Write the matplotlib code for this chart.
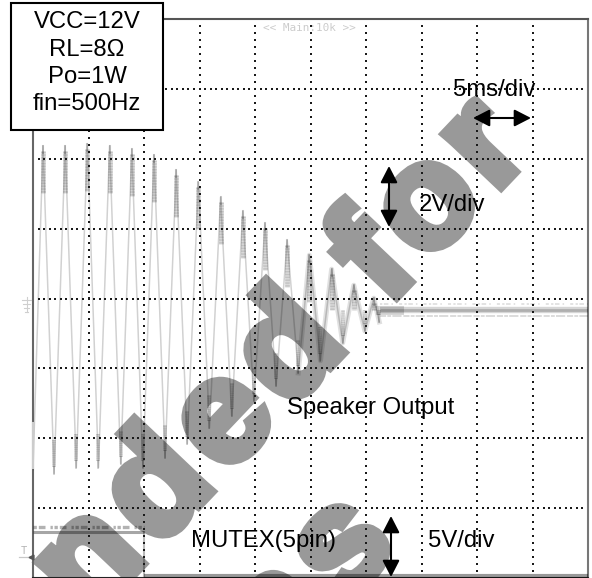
import numpy as np
import matplotlib
matplotlib.use("Agg")
import matplotlib.pyplot as plt
import matplotlib.patheffects as pe
from matplotlib.patches import Rectangle, FancyArrowPatch
from matplotlib.lines import Line2D

W, H = 592, 578
plt.rcParams['font.family'] = ['Liberation Sans', 'DejaVu Sans']

# Speaker output: time in ms, level in V (5 ms/div, 2 V/div)
peak_t = [0.9, 2.9, 4.9, 6.9, 8.9, 10.9, 12.9, 14.9, 16.9, 18.9, 20.9, 22.9, 24.9, 26.9, 28.9, 30.7]
peak_v = [4.37, 4.37, 4.43, 4.37, 4.28, 4.11, 3.68, 3.33, 2.90, 2.50, 2.16, 1.67, 1.24, 0.84, 0.38, 0.01]
trough_t = [1.9, 3.9, 5.9, 7.9, 9.9, 11.9, 13.9, 15.9, 17.9, 19.9, 21.9, 23.9, 25.9, 27.9, 29.9, 31.2]
trough_v = [-5.01, -4.84, -4.84, -4.73, -4.84, -4.56, -4.16, -3.71, -3.36, -2.93, -2.50, -2.13, -1.78, -1.27, -0.93, -0.67]
start_t, start_v = 0.0, -4.9
settled_t = [31.3, 50.0]
settled_v = [-0.33, -0.33]
# MUTEX trace in the same axes units
mutex_t = [0.0, 10.0, 10.0, 50.0]
mutex_v = [-6.69, -6.69, -7.93, -7.93]

major_x = np.arange(5, 50, 5)
major_y = np.arange(-6, 8, 2)

fig = plt.figure(figsize=(W / 100, H / 100), dpi=100, facecolor='white')
ax = fig.add_axes([33 / W, 0, 555 / W, 1 - 19 / H])
ax.set_xlim(0, 50)
ax.set_ylim(-8, 8)
ax.set_xticks([])
ax.set_yticks([])
for name, col in (('left', '#666666'), ('right', '#777777'), ('top', '#555555'), ('bottom', '#222222')):
    ax.spines[name].set_color(col)
    ax.spines[name].set_linewidth(1.5)
    ax.spines[name].set_zorder(1.5)


def fx(x):
    return x / W


def fy(y):
    return 1 - y / H


# watermark lies under the scope image; the traces are translucent black so they darken it.
# The original face is wider than Liberation Sans Bold, so the letters are set with wide spacing.
wm_angle = 46.5
wm_em = 164.0
wm_style = dict(fontsize=105, fontweight='bold', color='#999999', rotation=wm_angle, rotation_mode='anchor',
                ha='center', va='baseline', zorder=1, transform=fig.transFigure, clip_on=False,
                path_effects=[pe.withStroke(linewidth=7, foreground='#999999', joinstyle='miter')])


def watermark(x0, y0, letters, advances):
    pen = 0.0
    c, s = np.cos(np.radians(wm_angle)), np.sin(np.radians(wm_angle))
    for ch, adv in zip(letters, advances):
        mid = (pen + adv / 2) * wm_em
        ax.text(fx(x0 + mid * c), fy(y0 - mid * s), ch, **wm_style)
        pen += adv


watermark(84, 626, 'nded for', [0.611, 0.611, 0.556, 0.611, 0.278, 0.333, 0.611, 0.389])
watermark(271, 681, 'ns', [0.611, 0.556])

# dotted graticule
for x in major_x:
    ys = np.arange(-7.8, 7.9, 0.2)
    ax.scatter(np.full_like(ys, x), ys, s=1.0, c='#1a1a1a', marker='s', linewidths=0, zorder=4)
for y in major_y:
    xs = np.arange(0.5, 50, 0.5)
    ax.scatter(xs, np.full_like(xs, y), s=1.0, c='#1a1a1a', marker='s', linewidths=0, zorder=4)

# speaker trace
zig_t, zig_v = [start_t], [start_v]
for a, b, c, d in zip(peak_t, peak_v, trough_t, trough_v):
    zig_t += [a, c]
    zig_v += [b, d]
ax.plot(zig_t, zig_v, color='black', alpha=0.18, lw=1.1, zorder=2)
n_late = 2 * sum(t < 24 for t in peak_t)
ax.plot(zig_t[n_late:], zig_v[n_late:], color='black', alpha=0.12, lw=3.6, zorder=2)
hatch = (0, (0.3, 0.3))
for a, b in zip(peak_t, peak_v):
    span = min(1.35, max(b + 0.33, 0.2))
    ax.plot([a, a], [b - 0.15, b - span], color='black', alpha=0.15, lw=3.4, zorder=2.1, solid_capstyle='butt')
    ax.plot([a, a], [b - 0.15, b - span], color='black', alpha=0.1, lw=3.4, ls=hatch, zorder=2.1)
    ax.plot([a, a], [b, b - 0.2], color='black', alpha=0.2, lw=1.5, zorder=2.1)
for a, b in zip(trough_t, trough_v):
    span = min(0.95, max(-0.33 - b, 0.2))
    ax.plot([a, a], [b + 0.2, b + span], color='black', alpha=0.14, lw=2.6, zorder=2.1, solid_capstyle='butt')
    ax.plot([a, a], [b + 0.2, b + span], color='black', alpha=0.08, lw=2.6, ls=hatch, zorder=2.1)
    ax.plot([a, a], [b, b + 0.2], color='black', alpha=0.2, lw=1.2, zorder=2.1)
ax.plot([0, 0], [-3.57, -4.85], color='#cccccc', lw=1.5, zorder=2, clip_on=False)

# settled noise band
ax.plot(settled_t, settled_v, color='black', alpha=0.16, lw=4.6, zorder=2, solid_capstyle='butt')
ax.plot(settled_t, settled_v, color='black', alpha=0.18, lw=2.0, zorder=2.1, solid_capstyle='butt')
ax.plot(settled_t, [v + 0.17 for v in settled_v], color='black', alpha=0.14, lw=1.1,
        ls=(0, (1.5, 1, 3, 2, 1, 4, 2, 1.5)), zorder=2)
ax.plot(settled_t, [v - 0.16 for v in settled_v], color='black', alpha=0.18, lw=1.1,
        ls=(0, (4, 0.8, 2.5, 0.8, 6, 1.2)), zorder=2)
ax.plot([31.3, 33.0], [settled_v[0], settled_v[0]], color='black', alpha=0.16, lw=6.5, zorder=2)

# MUTEX trace
ax.plot(mutex_t[:2], mutex_v[:2], color='black', alpha=0.35, lw=2.2, zorder=2.6, solid_capstyle='butt')
ax.plot(mutex_t[:2], [v + 0.14 for v in mutex_v[:2]], color='black', alpha=0.3, lw=2.4,
        ls=(0, (1, 0.6, 2, 1.5, 0.7, 0.5)), zorder=2.6)
ax.plot(mutex_t[1:3], mutex_v[1:3], color='black', alpha=0.27, lw=1.5, zorder=2.6)
ax.plot(mutex_t[2:], mutex_v[2:], color='black', alpha=0.4, lw=3.0, zorder=2.6, solid_capstyle='butt', clip_on=False)

# scope markers and header
fig.text(fx(309.5), fy(28), '<< Main:10k >>', family='DejaVu Sans Mono', fontsize=7.9, color='#cccccc',
         ha='center', va='center', zorder=6)
for x0, x1, y in ((22, 31, 300), (23, 30, 304), (24, 29, 308), (25, 28, 312)):
    fig.add_artist(Line2D([fx(x0), fx(x1)], [fy(y), fy(y)], color='#cfcfcf', lw=0.8, zorder=6))
fig.add_artist(Line2D([fx(27), fx(27)], [fy(297), fy(312)], color='#cfcfcf', lw=0.8, zorder=6))
fig.text(fx(23.5), fy(551), 'T', family='DejaVu Sans Mono', fontsize=7.5, color='#b5b5b5',
         ha='center', va='center', zorder=6)
fig.add_artist(Line2D([fx(19), fx(30)], [fy(557), fy(557)], color='#c8c8c8', lw=0.9, zorder=6))
fig.add_artist(Line2D([fx(31)], [fy(557)], marker='<', ms=3.5, color='#555555', zorder=6))

# annotation box
fig.add_artist(Rectangle((fx(11), fy(130)), 152 / W, 127 / H, transform=fig.transFigure,
                         facecolor='white', edgecolor='black', lw=1.5, zorder=7))
for txt, y in (('VCC=12V', 22), ('RL=8Ω', 50), ('Po=1W', 77), ('fin=500Hz', 104)):
    fig.text(fx(87), fy(y), txt, fontsize=17.2, color='black', ha='center', va='center', zorder=8)

# labels
for txt, x, y in (('5ms/div', 494, 90), ('2V/div', 452.5, 205), ('Speaker Output', 370.5, 408),
                  ('MUTEX(5pin)', 263.5, 541), ('5V/div', 461, 541)):
    fig.text(fx(x), fy(y), txt, fontsize=17.2, color='black', ha='center', va='center', zorder=8)

# scale arrows
for (x0, y0), (x1, y1) in (((473, 118), (531, 118)), ((389, 166), (389, 227)), ((391, 516), (391, 577))):
    fig.add_artist(FancyArrowPatch(
        (fx(x0), fy(y0)), (fx(x1), fy(y1)), transform=fig.transFigure,
        arrowstyle='<|-|>,head_length=0.72,head_width=0.37',
        mutation_scale=14, lw=1.5, color='black', shrinkA=0, shrinkB=0, zorder=8))

fig.savefig('out.png', dpi=100)
